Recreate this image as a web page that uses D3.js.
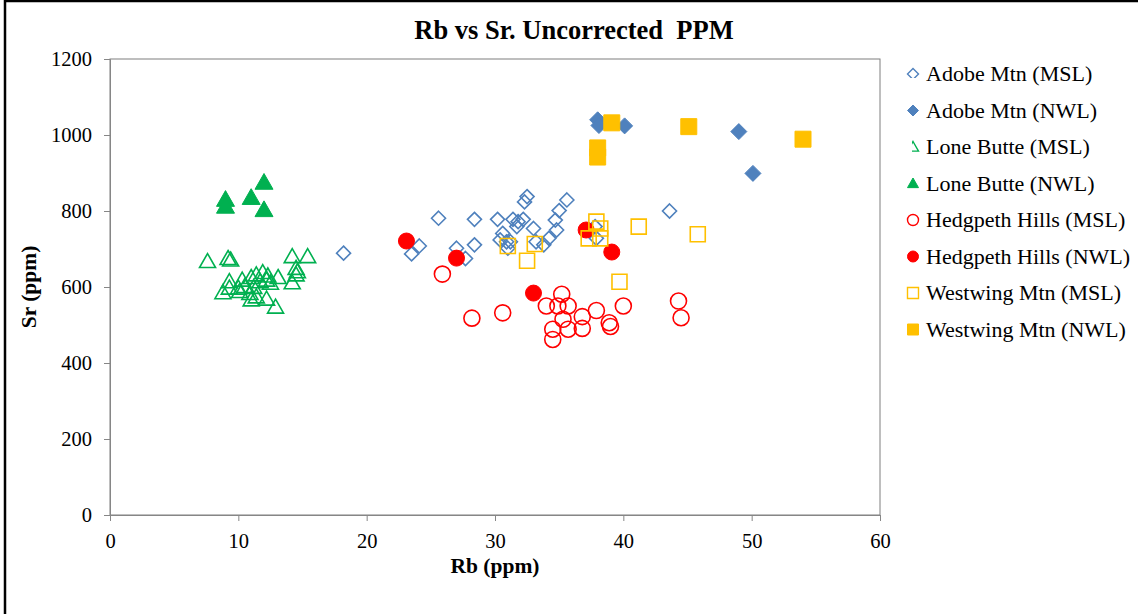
<!DOCTYPE html>
<html><head><meta charset="utf-8">
<script src="https://cdn.jsdelivr.net/npm/d3@7/dist/d3.min.js"></script>
<style>body{margin:0;background:#fff}svg{display:block}text{font-family:"Liberation Serif","Times New Roman",serif}</style>
</head><body><svg id="c" width="1138" height="614"></svg>
<script>
const xTicks=[0,10,20,30,40,50,60];
const yTicks=[0,200,400,600,800,1000,1200];
const adobeMSL=[[18.2,689],[25.6,781],[28.4,778],[30.2,778],[30.6,741],[30.4,724],[24.1,708],[23.5,687],[27.0,702],[27.7,675],[28.4,711],[30.9,719],[32.5,838],[32.3,824],[35.6,829],[31.4,778],[31.8,772],[32.2,778],[31.7,759],[35.0,801],[34.7,776],[33.0,754],[34.8,750],[31.0,702],[31.2,719],[33.2,719],[33.8,711],[34.2,728],[37.8,759],[37.9,728],[43.6,800]];
const adobeNWL=[[38.0,1040],[38.1,1025],[40.1,1024],[49.0,1009],[50.1,899]];
const loneMSL=[[7.6,667],[9.2,675],[9.4,671],[14.2,680],[15.4,680],[14.5,649],[14.6,640],[14.5,632],[14.2,611],[9.3,614],[10.3,618],[11.0,625],[11.4,632],[11.9,638],[12.3,629],[13.1,625],[12.2,618],[8.8,585],[9.3,597],[10.0,597],[10.5,601],[10.1,588],[11.2,599],[10.9,583],[11.0,566],[11.4,574],[12.2,568],[12.9,547],[11.7,614],[12.5,610]];
const loneNWL=[[9.0,830],[9.0,812],[11.0,835],[12.0,875],[12.0,803]];
const hedgMSL=[[25.9,634],[28.2,518],[30.6,532],[35.2,581],[34.0,550],[34.9,550],[35.7,550],[35.3,515],[36.8,522],[37.9,538],[40.0,550],[34.5,489],[34.5,462],[35.7,489],[36.8,491],[38.9,506],[39.0,496],[44.3,563],[44.5,519]];
const hedgNWL=[[23.1,721],[27.0,676],[33.0,584],[37.1,750],[39.1,692]];
const westMSL=[[31.0,708],[33.1,713],[32.5,669],[37.9,772],[38.2,754],[37.3,728],[38.2,728],[41.2,759],[39.7,614],[45.8,739]];
const westNWL=[[39.1,1032],[38.0,966],[38.0,942],[45.1,1022],[54.0,989]];
const seriesNames=["Adobe Mtn (MSL)","Adobe Mtn (NWL)","Lone Butte (MSL)","Lone Butte (NWL)","Hedgpeth Hills (MSL)","Hedgpeth Hills (NWL)","Westwing Mtn (MSL)","Westwing Mtn (NWL)"];

const series=[
 {name:seriesNames[0],data:adobeMSL,shape:"diamond",color:"#4F81BD",fill:false,size:7,clip:[-7,-7,7,4]},
 {name:seriesNames[1],data:adobeNWL,shape:"diamond",color:"#4F81BD",fill:true,size:8},
 {name:seriesNames[2],data:loneMSL,shape:"triangle",color:"#00B050",fill:false,size:8,clip:[-1,-7,7,7]},
 {name:seriesNames[3],data:loneNWL,shape:"triangle",color:"#00B050",fill:true,size:9},
 {name:seriesNames[4],data:hedgMSL,shape:"circle",color:"#FF0000",fill:false,size:8},
 {name:seriesNames[5],data:hedgNWL,shape:"circle",color:"#FF0000",fill:true,size:8},
 {name:seriesNames[6],data:westMSL,shape:"square",color:"#FFC000",fill:false,size:7.5},
 {name:seriesNames[7],data:westNWL,shape:"square",color:"#FFC000",fill:true,size:8}
];

function shapePath(shape,r){
  if(shape==="diamond") return `M0,${-r}L${r},0L0,${r}L${-r},0Z`;
  if(shape==="triangle") return `M0,${-r}L${r},${r*0.75}L${-r},${r*0.75}Z`;
  if(shape==="square") return `M${-r},${-r}H${r}V${r}H${-r}Z`;
  return `M${r},0A${r},${r} 0 1,1 ${-r},0A${r},${r} 0 1,1 ${r},0Z`;
}

const svg=d3.select("#c");
const defs=svg.append("defs");
svg.append("rect").attr("x",5).attr("y",1).attr("width",1200).attr("height",700).attr("fill","#fff").attr("stroke","#000").attr("stroke-width",2.5);

const L=110,R=880,T=59,B=515;
const x=d3.scaleLinear().domain([0,60]).range([L,R]);
const y=d3.scaleLinear().domain([0,1200]).range([B,T]);

svg.append("rect").attr("x",L).attr("y",T).attr("width",R-L).attr("height",B-T).attr("fill","none").attr("stroke","#7f7f7f").attr("stroke-width",1);

const xa=svg.append("g").attr("transform",`translate(0,${B})`).call(d3.axisBottom(x).tickValues(xTicks).tickFormat(d3.format("d")).tickSize(6).tickPadding(12));
const ya=svg.append("g").attr("transform",`translate(${L},0)`).call(d3.axisLeft(y).tickValues(yTicks).tickFormat(d3.format("d")).tickSize(6).tickPadding(12));
[xa,ya].forEach(a=>{a.selectAll("path,line").attr("stroke","#868686");a.selectAll("text").attr("font-family","Liberation Serif").attr("font-size",20.5).attr("fill","#000");});

svg.append("text").attr("x",574).attr("y",39).attr("text-anchor","middle").attr("font-size",26.5).attr("font-weight","bold").style("white-space","pre").text("Rb vs Sr. Uncorrected  PPM");
svg.append("text").attr("x",495).attr("y",573).attr("text-anchor","middle").attr("font-size",21.5).attr("font-weight","bold").text("Rb (ppm)");
svg.append("text").attr("transform","translate(36,287) rotate(-90)").attr("text-anchor","middle").attr("font-size",21.5).attr("font-weight","bold").text("Sr (ppm)");

const plot=svg.append("g");
series.forEach(s=>{
  plot.append("g").selectAll("path").data(s.data).join("path")
   .attr("transform",d=>`translate(${x(d[0])},${y(d[1])})`)
   .attr("d",shapePath(s.shape,s.size))
   .attr("fill",s.fill?s.color:"none")
   .attr("stroke",s.color).attr("stroke-width",s.fill?1:1.6);
});

const lg=svg.append("g");
series.forEach((s,i)=>{
  const yy=74+i*36.5;
  const g=lg.append("g").attr("transform",`translate(913,${yy})`);
  const p=g.append("path").attr("d",shapePath(s.shape,5.5))
    .attr("fill",s.fill?s.color:"none").attr("stroke",s.color).attr("stroke-width",s.fill?1:1.4);
  if(s.clip){
    const id="lc"+i;
    defs.append("clipPath").attr("id",id).append("rect").attr("x",s.clip[0]).attr("y",s.clip[1]).attr("width",s.clip[2]-s.clip[0]).attr("height",s.clip[3]-s.clip[1]);
    p.attr("clip-path",`url(#${id})`);
  }
  lg.append("text").attr("x",926).attr("y",yy+7).attr("font-size",22).text(s.name);
});
</script></body></html>
